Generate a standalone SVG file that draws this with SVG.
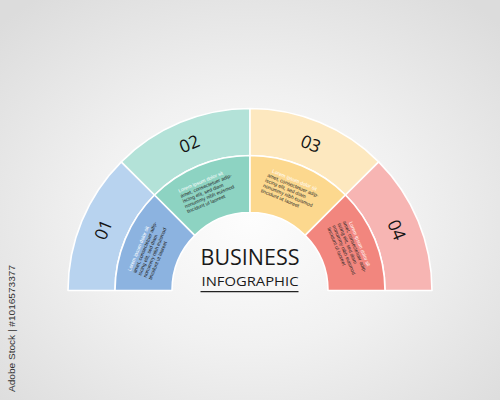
<svg xmlns="http://www.w3.org/2000/svg" width="500" height="400" viewBox="0 0 500 400">
  <defs>
    <radialGradient id="bg" cx="50%" cy="55%" r="70%">
      <stop offset="0" stop-color="#fdfdfd"/>
      <stop offset="0.45" stop-color="#f1f1f1"/>
      <stop offset="1" stop-color="#dcdcdc"/>
    </radialGradient>
    <style>
      .seg { stroke: #ffffff; stroke-width: 1.6; stroke-linejoin: round; }
      .num { font-family: "Open Sans", "Liberation Sans", sans-serif; font-size: 17.5px; fill: #141414; text-anchor: middle; }
      .lorem { font-family: "Liberation Sans", "Open Sans", sans-serif; font-size: 5px; fill: #262626; }
      .lorem .hd { fill: #ffffff; }
      .title { font-family: "Open Sans", "Liberation Sans", sans-serif; fill: #1a1a1a; text-anchor: middle; }
    </style>
  </defs>

  <rect x="0" y="0" width="500" height="400" fill="url(#bg)"/>

  <g id="node-01">
    <path class="seg" fill="#b8d3ef" d="M68,290.5 A182,182 0 0 1 121.31,161.81 L154.54,195.04 A135,135 0 0 0 115,290.5 Z"/>
    <path class="seg" fill="#8cb3e0" d="M115,290.5 A135,135 0 0 1 154.54,195.04 L194.85,235.35 A78,78 0 0 0 172,290.5 Z"/>
    <text class="num" transform="translate(103.56,229.84) rotate(-67.5)" y="6">01</text>
    <text class="lorem" transform="translate(151.14,249.55) rotate(-67.5)">
      <tspan class="hd" x="-28" y="-10.5">Lorem ipsum dolor sit</tspan>
      <tspan x="-28" y="-4.9">amet, consectetuer adip-</tspan>
      <tspan x="-28" y="0.7">iscing elit, sed diam</tspan>
      <tspan x="-28" y="6.3">nonummy nibh euismod</tspan>
      <tspan x="-28" y="11.9">tincidunt ut laoreet</tspan>
    </text>
  </g>

  <g id="node-02">
    <path class="seg" fill="#b3e2d8" d="M121.31,161.81 A182,182 0 0 1 250,108.5 L250,155.5 A135,135 0 0 0 154.54,195.04 Z"/>
    <path class="seg" fill="#8dd3c2" d="M154.54,195.04 A135,135 0 0 1 250,155.5 L250,212.5 A78,78 0 0 0 194.85,235.35 Z"/>
    <text class="num" transform="translate(189.34,144.06) rotate(-22.5)" y="6">02</text>
    <text class="lorem" transform="translate(209.05,191.64) rotate(-22.5)">
      <tspan class="hd" x="-28" y="-10.5">Lorem ipsum dolor sit</tspan>
      <tspan x="-28" y="-4.9">amet, consectetuer adip-</tspan>
      <tspan x="-28" y="0.7">iscing elit, sed diam</tspan>
      <tspan x="-28" y="6.3">nonummy nibh euismod</tspan>
      <tspan x="-28" y="11.9">tincidunt ut laoreet</tspan>
    </text>
  </g>

  <g id="node-03">
    <path class="seg" fill="#fde8bf" d="M250,108.5 A182,182 0 0 1 378.69,161.81 L345.46,195.04 A135,135 0 0 0 250,155.5 Z"/>
    <path class="seg" fill="#fcd88e" d="M250,155.5 A135,135 0 0 1 345.46,195.04 L305.15,235.35 A78,78 0 0 0 250,212.5 Z"/>
    <text class="num" transform="translate(310.66,144.06) rotate(22.5)" y="6">03</text>
    <text class="lorem" transform="translate(290.95,191.64) rotate(22.5)">
      <tspan class="hd" x="-25" y="-10.5">Lorem ipsum dolor sit</tspan>
      <tspan x="-28" y="-4.9">amet, consectetuer adip-</tspan>
      <tspan x="-28" y="0.7">iscing elit, sed diam</tspan>
      <tspan x="-28" y="6.3">nonummy nibh euismod</tspan>
      <tspan x="-28" y="11.9">tincidunt ut laoreet</tspan>
    </text>
  </g>

  <g id="node-04">
    <path class="seg" fill="#f7b5b3" d="M378.69,161.81 A182,182 0 0 1 432,290.5 L385,290.5 A135,135 0 0 0 345.46,195.04 Z"/>
    <path class="seg" fill="#f2867e" d="M345.46,195.04 A135,135 0 0 1 385,290.5 L328,290.5 A78,78 0 0 0 305.15,235.35 Z"/>
    <text class="num" transform="translate(396.44,229.84) rotate(67.5)" y="6">04</text>
    <text class="lorem" transform="translate(348.86,249.55) rotate(67.5)">
      <tspan class="hd" x="-25" y="-10.5">Lorem ipsum dolor sit</tspan>
      <tspan x="-28" y="-4.9">amet, consectetuer adip-</tspan>
      <tspan x="-28" y="0.7">iscing elit, sed diam</tspan>
      <tspan x="-28" y="6.3">nonummy nibh euismod</tspan>
      <tspan x="-28" y="11.9">tincidunt ut laoreet</tspan>
    </text>
  </g>

  <g id="connectors"></g>

  <g id="title">
    <text class="title" x="250" y="265" font-size="22" textLength="99" lengthAdjust="spacingAndGlyphs">BUSINESS</text>
    <text class="title" x="250" y="285.5" font-size="13" textLength="97" lengthAdjust="spacingAndGlyphs">INFOGRAPHIC</text>
    <line x1="200.5" y1="291.6" x2="298.5" y2="291.6" stroke="#222222" stroke-width="1.2"/>
  </g>

  <text transform="translate(15,392) rotate(-90)" font-family="Liberation Sans, Arial, sans-serif" font-size="9.5" fill="#333333" textLength="127" lengthAdjust="spacingAndGlyphs">Adobe Stock | #1016573377</text>
</svg>
